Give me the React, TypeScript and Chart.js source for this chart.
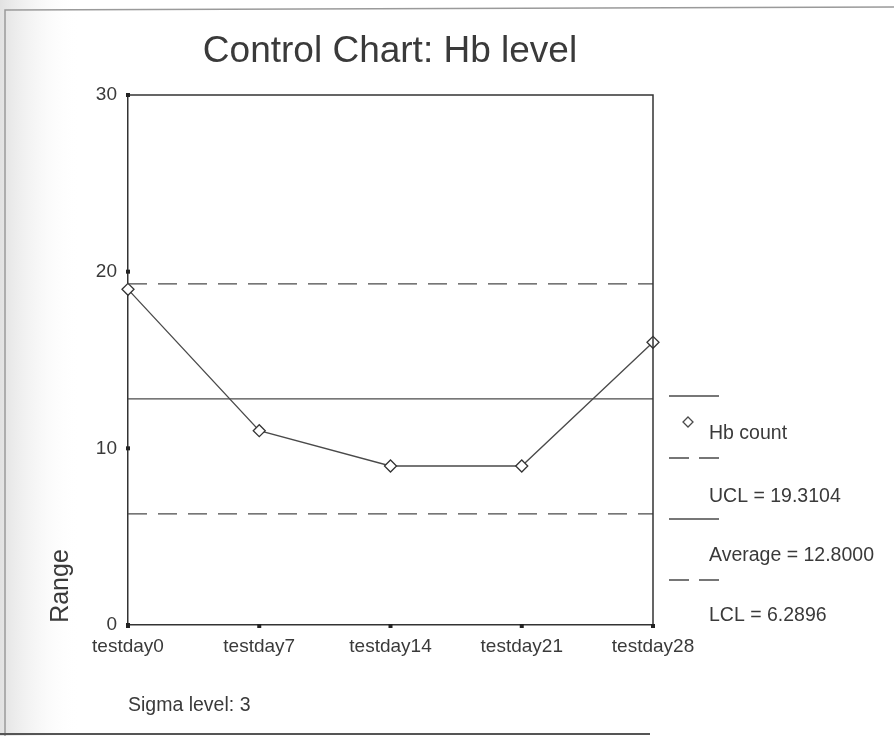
import React, { useEffect, useRef } from "react";
import { Chart, registerables } from "chart.js";

Chart.register(...registerables);

const categories = ["testday0", "testday7", "testday14", "testday21", "testday28"];
const hbCount = [19, 11, 9, 9, 16];
const uclLine = [19.3104, 19.3104, 19.3104, 19.3104, 19.3104];
const averageLine = [12.8, 12.8, 12.8, 12.8, 12.8];
const lclLine = [6.2896, 6.2896, 6.2896, 6.2896, 6.2896];
const yTicks = [0, 10, 20, 30];
const titleText = "Control Chart: Hb level";
const yAxisTitle = "Range";
const footnote = "Sigma level: 3";
const seriesName = "Hb count";

const FONT = "'Liberation Sans', Arial, sans-serif";
const INK = "#3a3a3a";
const LINE = "#4a4a4a";
const DASH = [19, 11];

const decorPlugin = {
  id: "decor",
  beforeDraw(chart: any) {
    const ctx = chart.ctx;
    ctx.save();
    ctx.fillStyle = "#ffffff";
    ctx.fillRect(0, 0, chart.width, chart.height);
    const g = ctx.createLinearGradient(0, 0, 80, 0);
    g.addColorStop(0, "#e2e2e2");
    g.addColorStop(1, "rgba(255,255,255,0)");
    ctx.fillStyle = g;
    ctx.fillRect(0, 0, 80, chart.height);
    // frame
    ctx.strokeStyle = "#9a9a9a";
    ctx.lineWidth = 1.5;
    ctx.beginPath();
    ctx.moveTo(5, 736);
    ctx.lineTo(5, 10);
    ctx.lineTo(894, 7);
    ctx.stroke();
    ctx.strokeStyle = "#555";
    ctx.lineWidth = 2;
    ctx.beginPath();
    ctx.moveTo(0, 734);
    ctx.lineTo(650, 734);
    ctx.stroke();
    ctx.restore();
  },
  afterDraw(chart: any) {
    const ctx = chart.ctx;
    const { left, right, top, bottom } = chart.chartArea;
    const xs = chart.scales.x;
    const ys = chart.scales.y;
    ctx.save();
    // box top & right
    ctx.strokeStyle = "#333";
    ctx.lineWidth = 1.5;
    ctx.beginPath();
    ctx.moveTo(left, top);
    ctx.lineTo(right, top);
    ctx.lineTo(right, bottom);
    ctx.stroke();
    // tick squares
    ctx.fillStyle = "#222";
    ys.ticks.forEach((_t: any, i: number) => {
      const y = ys.getPixelForTick(i);
      ctx.fillRect(left - 2, y - 2, 4, 4);
    });
    xs.ticks.forEach((_t: any, i: number) => {
      const x = xs.getPixelForTick(i);
      ctx.fillRect(x - 2, bottom - 1, 4, 4);
    });
    // title
    ctx.fillStyle = INK;
    ctx.font = `37px ${FONT}`;
    ctx.textAlign = "center";
    ctx.textBaseline = "alphabetic";
    ctx.fillText(titleText, 390, 62);
    // y axis title
    ctx.save();
    ctx.translate(68, 586);
    ctx.rotate(-Math.PI / 2);
    ctx.font = `25px ${FONT}`;
    ctx.textAlign = "center";
    ctx.fillText(yAxisTitle, 0, 0);
    ctx.restore();
    // footnote
    ctx.font = `19.5px ${FONT}`;
    ctx.textAlign = "left";
    ctx.textBaseline = "middle";
    ctx.fillText(footnote, 128, 706);
    // legend
    const lx0 = 669;
    const lx1 = 719;
    const tx = 709;
    ctx.strokeStyle = LINE;
    ctx.lineWidth = 1.3;
    const solid = (y: number) => {
      ctx.setLineDash([]);
      ctx.beginPath();
      ctx.moveTo(lx0, y);
      ctx.lineTo(lx1, y);
      ctx.stroke();
    };
    const dashed = (y: number) => {
      ctx.setLineDash([]);
      ctx.beginPath();
      ctx.moveTo(lx0, y);
      ctx.lineTo(lx0 + 20, y);
      ctx.moveTo(lx0 + 30, y);
      ctx.lineTo(lx1, y);
      ctx.stroke();
    };
    solid(396);
    // diamond
    ctx.beginPath();
    ctx.moveTo(688, 422 - 5);
    ctx.lineTo(688 + 5, 422);
    ctx.lineTo(688, 422 + 5);
    ctx.lineTo(688 - 5, 422);
    ctx.closePath();
    ctx.fillStyle = "#fff";
    ctx.fill();
    ctx.stroke();
    ctx.fillStyle = INK;
    ctx.font = `19.5px ${FONT}`;
    ctx.textAlign = "left";
    ctx.textBaseline = "middle";
    ctx.fillText(seriesName, tx, 434);
    dashed(458);
    ctx.fillText(`UCL = ${uclLine[0].toFixed(4)}`, tx, 497);
    solid(519);
    ctx.fillText(`Average = ${averageLine[0].toFixed(4)}`, tx, 556);
    dashed(580);
    ctx.fillText(`LCL = ${lclLine[0].toFixed(4)}`, tx, 616);
    ctx.restore();
  },
};

export default function App() {
  const ref = useRef<HTMLCanvasElement | null>(null);
  useEffect(() => {
    if (!ref.current) return;
    const chart = new Chart(ref.current, {
      type: "line",
      data: {
        labels: categories,
        datasets: [
          {
            label: "UCL",
            data: uclLine,
            borderColor: LINE,
            borderWidth: 1.4,
            borderDash: DASH,
            pointRadius: 0,
            clip: false,
          },
          {
            label: "Average",
            data: averageLine,
            borderColor: LINE,
            borderWidth: 1.3,
            pointRadius: 0,
            clip: false,
          },
          {
            label: "LCL",
            data: lclLine,
            borderColor: LINE,
            borderWidth: 1.4,
            borderDash: DASH,
            pointRadius: 0,
            clip: false,
          },
          {
            label: seriesName,
            data: hbCount,
            borderColor: LINE,
            borderWidth: 1.3,
            pointStyle: "rectRot",
            pointRadius: 6,
            pointBorderWidth: 1.3,
            pointBackgroundColor: "#ffffff",
            pointBorderColor: "#333",
            clip: false,
          },
        ],
      } as any,
      options: {
        animation: false,
        responsive: false,
        maintainAspectRatio: false,
        layout: { padding: { left: 0, top: 95, right: 241, bottom: 0 } },
        plugins: {
          legend: { display: false },
          title: { display: false },
          tooltip: { enabled: false },
        },
        scales: {
          x: {
            type: "category",
            offset: false,
            grid: { display: true, drawOnChartArea: false, drawTicks: false, color: "rgba(0,0,0,0)" },
            border: { display: true, color: "#333", width: 1.5 },
            ticks: {
              color: INK,
              font: { family: FONT, size: 19 },
              padding: 10,
              maxRotation: 0,
              autoSkip: false,
            },
            afterFit: (s: any) => {
              s.height = 111;
            },
          },
          y: {
            min: 0,
            max: 30,
            afterBuildTicks: (s: any) => {
              s.ticks = yTicks.map((v) => ({ value: v }));
            },
            grid: { display: true, drawOnChartArea: false, drawTicks: false, color: "rgba(0,0,0,0)" },
            border: { display: true, color: "#333", width: 1.5 },
            ticks: {
              color: INK,
              font: { family: FONT, size: 19 },
              padding: 11,
            },
            afterFit: (s: any) => {
              s.width = 128;
            },
          },
        },
      } as any,
      plugins: [decorPlugin],
    });
    return () => chart.destroy();
  }, []);
  return (
    <div style={{ position: "absolute", left: 0, top: 0, width: 894, height: 736, background: "#fff" }}>
      <canvas ref={ref} width={894} height={736} style={{ display: "block", width: 894, height: 736 }} />
    </div>
  );
}
